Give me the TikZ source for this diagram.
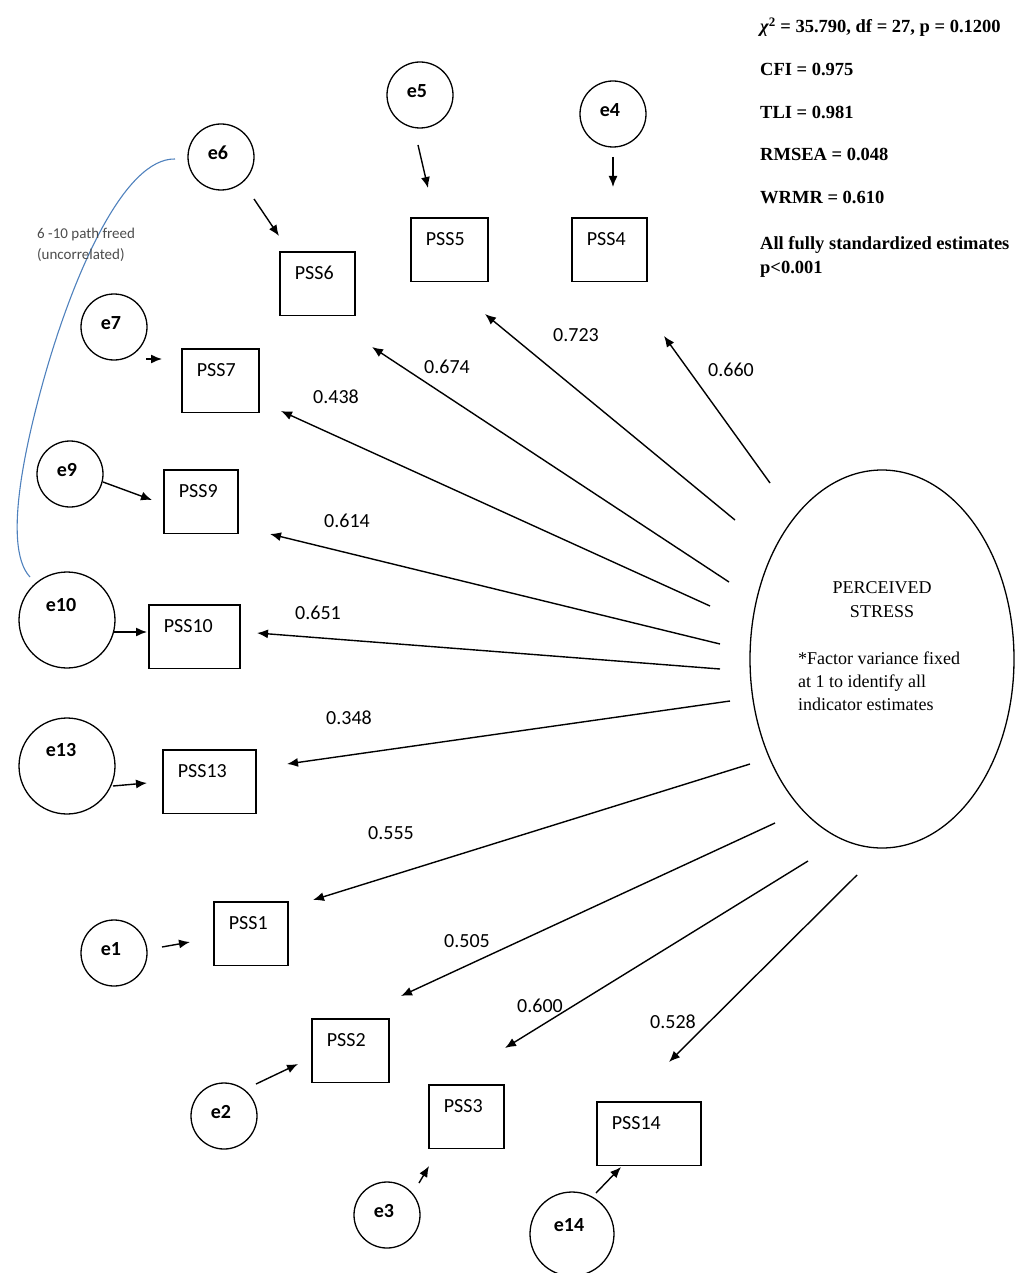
\documentclass[tikz,border=0pt]{standalone}
\usepackage{fontspec}
\setmainfont{Liberation Serif}
\newfontfamily\carlito{Carlito}
\usepackage{tikz}
\usetikzlibrary{positioning,shapes,arrows.meta}
\definecolor{corrblue}{RGB}{79,129,189}
\tikzset{err node/.style={circle,draw,line width=1.3pt,minimum size=#1,inner sep=0pt}}
\tikzset{err text/.style={font=\carlito\bfseries\fontsize{20}{24}\selectfont,xshift=-3pt,yshift=4pt}}
\tikzset{item node/.style={rectangle,draw,line width=1.7pt,anchor=north west,
inner xsep=15pt,inner ysep=0pt,text width=#1,align=left,
text height=27.5pt,text depth=36pt,font=\carlito\fontsize{20}{24}\selectfont}}
\tikzset{est node/.style={font=\carlito\fontsize{20}{24}\selectfont,inner sep=0pt}}
\tikzset{fit node/.style={anchor=base west,inner sep=0pt,font=\bfseries\fontsize{18.5}{22}\selectfont}}
\tikzset{factor node/.style={ellipse,draw,line width=1.3pt,minimum width=264pt,minimum height=378pt}}
\tikzset{load arrow/.style={-{Latex[length=11pt,width=9pt]},line width=1.4pt}}

\begin{document}
\begin{tikzpicture}[x=1pt,y=-1pt]
\useasboundingbox (0,0) rectangle (1016,1273);

% fit indices
\node[fit node] (chi) at (760,33) {{\itshape χ}\textsuperscript{2} = 35.790, df = 27, p = 0.1200};
\node[fit node] (cfi) at (760,76) {CFI = 0.975};
\node[fit node] (tli) at (760,119) {TLI = 0.981};
\node[fit node] (rmsea) at (760,161) {RMSEA = 0.048};
\node[fit node] (wrmr) at (760,204) {WRMR = 0.610};
\node[fit node] (allp) at (760,249) {All fully standardized estimates};
\node[fit node] (pval) at (760,273) {p<0.001};

% latent factor
\node[factor node] (F) at (882,659) {};
\node[align=center,inner sep=0pt,font=\fontsize{18}{24}\selectfont] (Fname) at (882,600) {PERCEIVED\\STRESS};
\node[anchor=north west,align=left,inner sep=0pt,font=\fontsize{18}{23}\selectfont] (Fnote) at (798,652)
{*Factor variance fixed\\at 1 to identify all\\indicator estimates};

% items
\node[item node=45pt] (PSS6) at (279,251) {PSS6};
\node[item node=47pt] (PSS5) at (410,217) {PSS5};
\node[item node=45pt] (PSS4) at (571,217) {PSS4};
\node[item node=47pt] (PSS7) at (181,348) {PSS7};
\node[item node=44pt] (PSS9) at (163,469) {PSS9};
\node[item node=61pt] (PSS10) at (148,604) {PSS10};
\node[item node=63pt] (PSS13) at (162,749) {PSS13};
\node[item node=44pt] (PSS1) at (213,901) {PSS1};
\node[item node=47pt] (PSS2) at (311,1018) {PSS2};
\node[item node=45pt] (PSS3) at (428,1084) {PSS3};
\node[item node=74pt] (PSS14) at (596,1101) {PSS14};

% residuals
\node[err node=66pt,label={[err text]center:e6}] (e6) at (221,157) {};
\node[err node=66pt,label={[err text]center:e5}] (e5) at (420,95) {};
\node[err node=66pt,label={[err text]center:e4}] (e4) at (613,114) {};
\node[err node=66pt,label={[err text]center:e7}] (e7) at (114,327) {};
\node[err node=66pt,label={[err text]center:e9}] (e9) at (70,474) {};
\node[err node=96pt,label={[err text,xshift=-3pt,yshift=11pt]center:e10}] (e10) at (67,620) {};
\node[err node=96pt,label={[err text,xshift=-3pt,yshift=12pt]center:e13}] (e13) at (67,766) {};
\node[err node=66pt,label={[err text]center:e1}] (e1) at (114,953) {};
\node[err node=66pt,label={[err text]center:e2}] (e2) at (224,1116) {};
\node[err node=66pt,label={[err text]center:e3}] (e3) at (387,1215) {};
\node[err node=84pt,label={[err text,yshift=5pt]center:e14}] (e14) at (572,1234) {};

% residual paths
\foreach \n/\tx/\ty/\hx/\hy in {6/254/199/279/236, 5/418/145/428/188, 4/613/157/613/187,
7/146/359/162/359, 9/103/482/152/500, 10/113/632/147/632, 13/113/786/147/783,
1/162/947/190/942, 2/256/1084/298/1064, 3/419/1183/429/1166, 14/596/1193/621/1167}{
    \coordinate (t\n) at (\tx,\ty);
    \coordinate (h\n) at (\hx,\hy);
    \draw[load arrow] (t\n) -- (h\n);
}

% loadings
\foreach \n/\sx/\sy/\dx/\dy in {4/770/483/664/336, 5/735/520/485/314, 6/729/582/372/347,
7/710/606/281/411, 9/720/644/270/534, 10/720/669/257/633, 13/730/701/287/764,
1/750/764/313/900, 2/775/823/401/996, 3/808/861/505/1048, 14/857/875/669/1062}{
    \coordinate (s\n) at (\sx,\sy);
    \coordinate (d\n) at (\dx,\dy);
    \draw[load arrow] (s\n) -- (d\n);
}

\node[est node] (w4) at (731,370) {0.660};
\node[est node] (w5) at (576,335) {0.723};
\node[est node] (w6) at (447,367) {0.674};
\node[est node] (w7) at (336,397) {0.438};
\node[est node] (w9) at (347,521) {0.614};
\node[est node] (w10) at (318,613) {0.651};
\node[est node] (w13) at (349,718) {0.348};
\node[est node] (w1) at (391,833) {0.555};
\node[est node] (w2) at (467,941) {0.505};
\node[est node] (w3) at (540,1006) {0.600};
\node[est node] (w14) at (673,1022) {0.528};

% freed correlation 6-10
\coordinate (c6) at (175,159);
\coordinate (c10) at (30,577);
\draw[corrblue,line width=1.1pt] (c6) .. controls (125,158) and (75,270) .. (45,375)
    .. controls (30,428) and (0,545) .. (c10);
\node[anchor=west,align=left,inner sep=0pt,text=black!70,font=\carlito\fontsize{15}{21}\selectfont] (freed) at (37,245)
{6 -10 path freed\\(uncorrelated)};
\end{tikzpicture}
\end{document}
